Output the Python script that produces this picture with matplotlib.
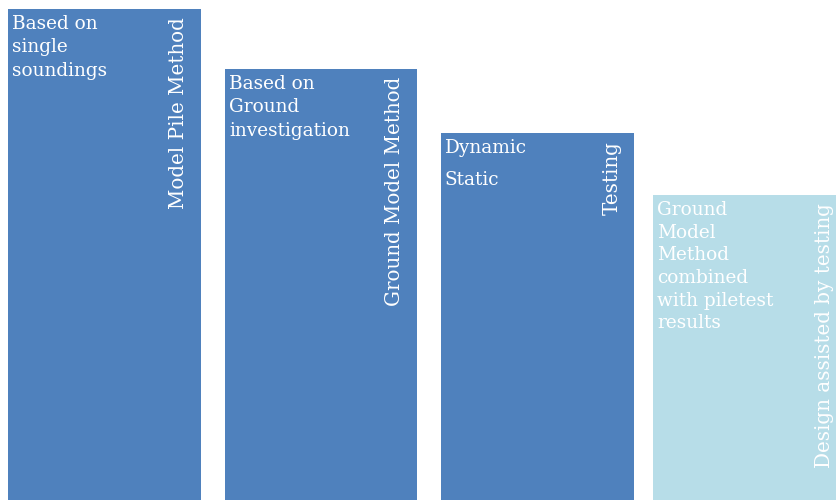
import matplotlib.pyplot as plt

lefts = [8, 225, 441, 653]
widths = [193, 192, 193, 193]
heights = [491, 431, 367, 305]
colors = ['#4F81BD', '#4F81BD', '#4F81BD', '#B7DDE8']

side_labels = ['Model Pile Method', 'Ground Model Method', 'Testing',
               'Design assisted by testing']
notes = [
    ['Based on', 'single', 'soundings'],
    ['Based on', 'Ground', 'investigation'],
    ['Dynamic', 'Static'],
    ['Ground', 'Model', 'Method', 'combined', 'with piletest', 'results'],
]
note_spacing = [23.5, 23.5, 32, 22.7]

plt.rcParams['font.family'] = ['DejaVu Serif']

fig = plt.figure(figsize=(8.36, 5.0), dpi=100)
ax = fig.add_axes([0, 0, 1, 1])
ax.set_xlim(0, 836)
ax.set_ylim(0, 500)
ax.axis('off')

ax.bar(lefts, heights, width=widths, align='edge', color=colors,
       edgecolor='none')

for left, w, h, side, lines, sp in zip(lefts, widths, heights, side_labels,
                                       notes, note_spacing):
    top = h
    for i, line in enumerate(lines):
        ax.text(left + 4, top - 6 - i * sp, line, color='white', fontsize=13.3,
                ha='left', va='top')
    ax.text(left + w - 22, top - 8, side, color='white', fontsize=14.3,
            rotation=90, ha='center', va='top')

fig.savefig('out.png', dpi=100)
